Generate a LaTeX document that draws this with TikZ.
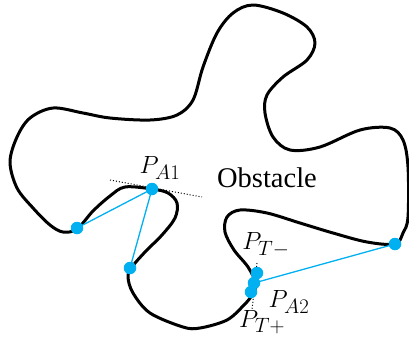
\documentclass[tikz,border=0pt]{standalone}
\usepackage{fontspec}
\setmainfont{Liberation Serif}
\DeclareMathSizes{26}{26}{21}{16}
\definecolor{dotblue}{RGB}{0,176,240}
\begin{document}
\begin{tikzpicture}[x=1pt,y=-1pt,
  outline/.style={line width=3pt,line join=round},
  link/.style={dotblue,line width=1.3pt},
  pt/.style={circle,fill=dotblue,inner sep=0pt,minimum size=12.5pt},
  tang/.style={dotted,line width=1pt},
  lab/.style={font=\fontsize{26}{30}\selectfont}]
\useasboundingbox (0,0) rectangle (409,341);
\draw[outline] plot[smooth cycle,tension=0.55] coordinates {
(10,162)(17,137)(30,118)(53,108)(83,113)(110,118)(150,120)(177,115)(193,100)
(203,67)(217,33)(233,13)(253,5)(283,13)(307,27)(315,43)(307,60)(283,77)
(267,95)(265,113)(273,137)(290,150)(320,147)(360,130)(390,128)(403,140)
(408,167)(408,217)(403,233)(395,244)(367,242)(333,233)(300,223)(267,213)
(240,210)(227,217)(225,232)(234,250)(248,267)(256,284)(252,295)(244,305)
(227,320)(200,328)(183,327)(150,313)(133,293)(128,277)(132,267)(145,252)
(162,235)(175,218)(177,203)(168,193)(152,189)(125,187)(110,196)(93,211)
(77,229)(63,232)(50,225)(33,208)(17,188)};
% tangent lines
\coordinate (t1a) at (110,180);
\coordinate (t1b) at (202,197);
\coordinate (t2a) at (257,263);
\coordinate (t2b) at (252,310);
\draw[tang] (t1a) -- (t1b);
\draw[tang] (t2a) -- (t2b);
% points
\node[pt] (pa1) at (152,189) {};
\node[pt] (pl) at (77,228) {};
\node[pt] (pb) at (130,268) {};
\node[pt] (pr) at (395,244) {};
\node[pt] (ptm) at (257,273) {};
\node[pt] (ptp) at (251,292) {};
\node[pt] (pa2) at (254,283) {};
\draw[link] (pl.center) -- (pa1.center) -- (pb.center);
\draw[link] (pa2.center) -- (pr.center);
% labels
\node[lab] (la1) at (160,168) {$P_{A1}$};
\node[font=\fontsize{28.5}{32}\selectfont] (obs) at (267,178) {Obstacle};
\node[lab] (ltm) at (266,245) {$P_{T-}$};
\node[lab] (la2) at (289,302) {$P_{A2}$};
\node[lab] (ltp) at (262,322) {$P_{T+}$};
\end{tikzpicture}
\end{document}
